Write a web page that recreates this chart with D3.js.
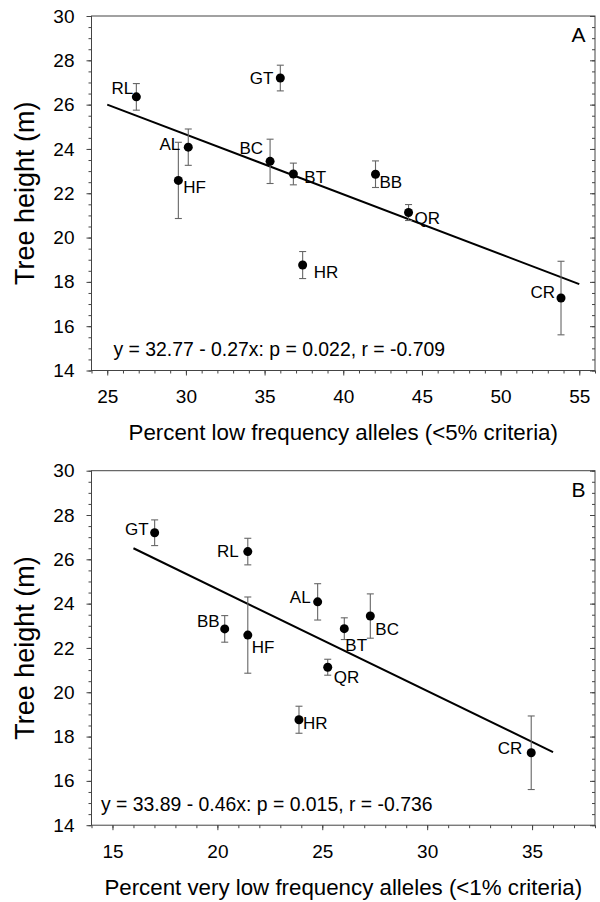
<!DOCTYPE html>
<html>
<head>
<meta charset="utf-8">
<script src="https://d3js.org/d3.v7.min.js"></script>
<style>
	body { margin: 0; background: #fff; }
	text { font-family: "Liberation Sans", Arial, Helvetica, sans-serif; fill: #000; }
</style>
</head>
<body>
<div id="chart"></div>
<script>
	// data
	var sites = ["RL", "GT", "AL", "HF", "BC", "BT", "BB", "QR", "HR", "CR"];
	var treeHeight = [26.35, 27.2, 24.08, 22.58, 23.44, 22.87, 22.86, 21.13, 18.76, 17.27];
	var heightErr = [0.6, 0.58, 0.82, 1.72, 1.0, 0.49, 0.6, 0.36, 0.61, 1.66];
	var lowFreq5 = [26.85, 36.0, 30.15, 29.52, 35.35, 36.83, 42.05, 44.15, 37.42, 53.84];
	var veryLow1 = [21.45, 17.01, 24.78, 21.45, 27.29, 26.05, 20.35, 25.26, 23.89, 34.96];

	var fitA_x = [25, 55], fitA_y = [26.0, 17.9];
	var fitB_x = [16, 36], fitB_y = [26.5, 17.3];

	var yTicks = [14, 16, 18, 20, 22, 24, 26, 28, 30];
	var xTicksA = [25, 30, 35, 40, 45, 50, 55];
	var xTicksB = [15, 20, 25, 30, 35];

	// label placement: [anchor, dx, dy]
	var labelPosA = {
		RL: ["end", -3, -3], GT: ["end", -7, 6], AL: ["end", -8, 3], HF: ["start", 5, 13],
		BC: ["end", -7, -7], BT: ["start", 11, 9], BB: ["start", 4, 14], QR: ["start", 6, 11],
		HR: ["start", 11, 13], CR: ["end", -6, 0]
	};
	var labelPosB = {
		GT: ["end", -6, 2], RL: ["end", -9, 5], AL: ["end", -7, 1], BB: ["end", -5, -2],
		HF: ["start", 4, 18], BT: ["start", 1, 22], BC: ["start", 5, 19], QR: ["start", 6, 16],
		HR: ["start", 4, 9], CR: ["end", -9, 1]
	};

	var W = 600, H = 902;
	var left = 91.5, width = 503.5, height = 354.5;

	var svg = d3.select("#chart").append("svg")
		.attr("width", W)
		.attr("height", H);

	function drawPanel(p) {
		var g = svg.append("g")
			.attr("transform", "translate(" + left + "," + p.top + ")");

		var x = d3.scaleLinear().domain(p.xDomain).range([0, width]);
		var y = d3.scaleLinear().domain([14, 30]).range([height, 0]);

		// minor ticks
		g.append("g")
			.attr("transform", "translate(0," + height + ")")
			.call(d3.axisBottom(x).tickValues(d3.range(p.xDomain[0], p.xDomain[1] + 0.01, 1)).tickSize(3).tickFormat(""))
			.call(s => s.select(".domain").remove());
		g.append("g")
			.call(d3.axisLeft(y).tickValues(d3.range(14, 30.01, 0.5)).tickSize(3).tickFormat(""))
			.call(s => s.select(".domain").remove());
		g.append("g")
			.attr("transform", "translate(" + width + ",0)")
			.call(d3.axisLeft(y).tickValues(d3.range(14, 30.01, 0.5)).tickSize(3).tickFormat(""))
			.call(s => s.select(".domain").remove());

		// major ticks
		g.append("g")
			.attr("transform", "translate(0," + height + ")")
			.call(d3.axisBottom(x).tickValues(p.xTicks).tickSize(5).tickPadding(14.5))
			.call(s => s.select(".domain").remove())
			.call(s => s.selectAll("text").style("font-size", "19px"));
		g.append("g")
			.call(d3.axisLeft(y).tickValues(yTicks).tickSize(5).tickPadding(12))
			.call(s => s.select(".domain").remove())
			.call(s => s.selectAll("text").style("font-size", "19px"));
		g.append("g")
			.attr("transform", "translate(" + width + ",0)")
			.call(d3.axisLeft(y).tickValues(yTicks).tickSize(5).tickFormat(""))
			.call(s => s.select(".domain").remove());

		g.selectAll(".tick line").attr("stroke", "#444");

		// frame
		g.append("rect")
			.attr("width", width)
			.attr("height", height)
			.attr("fill", "none")
			.attr("stroke", "#444")
			.attr("stroke-width", 1);

		// regression line
		g.append("path")
			.datum(d3.zip(p.fitX, p.fitY))
			.attr("fill", "none")
			.attr("stroke", "#000")
			.attr("stroke-width", 2)
			.attr("d", d3.line().x(d => x(d[0])).y(d => y(d[1])));

		var pts = sites.map(function (s, i) {
			return { site: s, x: p.xVals[i], y: treeHeight[i], e: heightErr[i] };
		});

		// error bars
		var eb = g.selectAll(".eb").data(pts).enter().append("g")
			.attr("stroke", "#666")
			.attr("stroke-width", 1.1);
		eb.append("line")
			.attr("x1", d => x(d.x)).attr("x2", d => x(d.x))
			.attr("y1", d => y(d.y - d.e)).attr("y2", d => y(d.y + d.e));
		eb.append("line")
			.attr("x1", d => x(d.x) - 3.5).attr("x2", d => x(d.x) + 3.5)
			.attr("y1", d => y(d.y + d.e)).attr("y2", d => y(d.y + d.e));
		eb.append("line")
			.attr("x1", d => x(d.x) - 3.5).attr("x2", d => x(d.x) + 3.5)
			.attr("y1", d => y(d.y - d.e)).attr("y2", d => y(d.y - d.e));

		// points
		g.selectAll(".pt").data(pts).enter().append("circle")
			.attr("cx", d => x(d.x))
			.attr("cy", d => y(d.y))
			.attr("r", 4.5)
			.attr("fill", "#000");

		// site labels
		g.selectAll(".lbl").data(pts).enter().append("text")
			.attr("x", d => x(d.x) + p.labelPos[d.site][1])
			.attr("y", d => y(d.y) + p.labelPos[d.site][2])
			.attr("text-anchor", d => p.labelPos[d.site][0])
			.style("font-size", "17px")
			.text(d => d.site);

		// equation
		g.append("text")
			.attr("x", p.eqX)
			.attr("y", height - 14.5)
			.style("font-size", "19.4px")
			.text(p.eq);

		// panel letter
		g.append("text")
			.attr("x", width - 9.5)
			.attr("y", 26)
			.attr("text-anchor", "end")
			.style("font-size", "21px")
			.text(p.letter);

		// axis titles
		g.append("text")
			.attr("x", width / 2)
			.attr("y", height + 69.5)
			.attr("text-anchor", "middle")
			.style("font-size", "22.3px")
			.text(p.xTitle);
		g.append("text")
			.attr("transform", "translate(" + (34 - left) + "," + (height / 2) + ") rotate(-90)")
			.attr("text-anchor", "middle")
			.style("font-size", "27px")
			.text("Tree height (m)");
	}

	drawPanel({
		top: 16, xDomain: [24, 56], xTicks: xTicksA, xVals: lowFreq5,
		fitX: fitA_x, fitY: fitA_y, labelPos: labelPosA,
		eq: "y = 32.77 - 0.27x: p = 0.022, r = -0.709", eqX: 22,
		letter: "A", xTitle: "Percent low frequency alleles (<5% criteria)"
	});
	drawPanel({
		top: 470.7, xDomain: [14, 38], xTicks: xTicksB, xVals: veryLow1,
		fitX: fitB_x, fitY: fitB_y, labelPos: labelPosB,
		eq: "y = 33.89 - 0.46x: p = 0.015, r = -0.736", eqX: 9.5,
		letter: "B", xTitle: "Percent very low frequency alleles (<1% criteria)"
	});
</script>
</body>
</html>
